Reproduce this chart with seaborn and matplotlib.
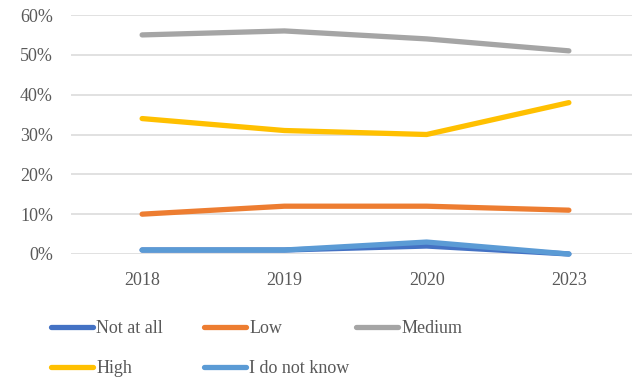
import pandas as pd
import seaborn as sns
import matplotlib.pyplot as plt
from matplotlib.ticker import PercentFormatter
from matplotlib.lines import Line2D

# Survey shares by year (percent)
years = ["2018", "2019", "2020", "2023"]
not_at_all = [1, 1, 2, 0]
low = [10, 12, 12, 11]
medium = [55, 56, 54, 51]
high = [34, 31, 30, 38]
dont_know = [1, 1, 3, 0]

levels = ["Not at all", "Low", "Medium", "High", "I do not know"]
colors = ["#4472C4", "#ED7D31", "#A5A5A5", "#FFC000", "#5B9BD5"]
values = [not_at_all, low, medium, high, dont_know]

rows = []
for name, vals in zip(levels, values):
    for yr, v in zip(years, vals):
        rows.append({"Year": yr, "Share": v, "Level": name})
df = pd.DataFrame(rows)

sns.set_theme(style="white")
plt.rcParams["font.family"] = ["Liberation Serif", "DejaVu Serif"]
text_color = "#595959"

fig = plt.figure(figsize=(6.32, 3.8), dpi=100)
ax = fig.add_axes([71 / 632, 1 - 254 / 380, 569 / 632, (254 - 15) / 380])

sns.lineplot(data=df, x="Year", y="Share", hue="Level", hue_order=levels,
             palette=colors, sort=False, linewidth=3.8, legend=False,
             solid_capstyle="round", solid_joinstyle="round", ax=ax)
for ln in ax.lines:
    ln.set_clip_on(False)

ax.set_xlim(-0.5, 3.5)
ax.set_ylim(0, 60)
ax.set_yticks(range(0, 61, 10))
ax.yaxis.set_major_formatter(PercentFormatter(decimals=0))
ax.grid(axis="y", color="#D9D9D9", linewidth=1.1)
ax.grid(axis="x", visible=False)
ax.set_axisbelow(True)
for s in ax.spines.values():
    s.set_visible(False)
ax.set_xlabel("")
ax.set_ylabel("")
ax.tick_params(axis="y", length=0, pad=13, labelsize=13, labelcolor=text_color)
ax.tick_params(axis="x", length=0, pad=13, labelsize=13, labelcolor=text_color)

# Legend laid out as three equal columns beneath the plot
handles = {name: Line2D([], [], color=c, linewidth=3.8, solid_capstyle="round")
           for name, c in zip(levels, colors)}
columns = [["Not at all", "High"], ["Low", "I do not know"], ["Medium"]]
col_x = [51, 204, 356]
for names, x in zip(columns, col_x):
    fig.legend([handles[n] for n in names], names, loc="upper left",
               bbox_to_anchor=(x / 632, 1 - 320 / 380), frameon=False,
               borderpad=0, borderaxespad=0, handlelength=2.35,
               handletextpad=0.15, labelspacing=1.3, fontsize=13,
               labelcolor=text_color)

fig.savefig("out.png", dpi=100)
